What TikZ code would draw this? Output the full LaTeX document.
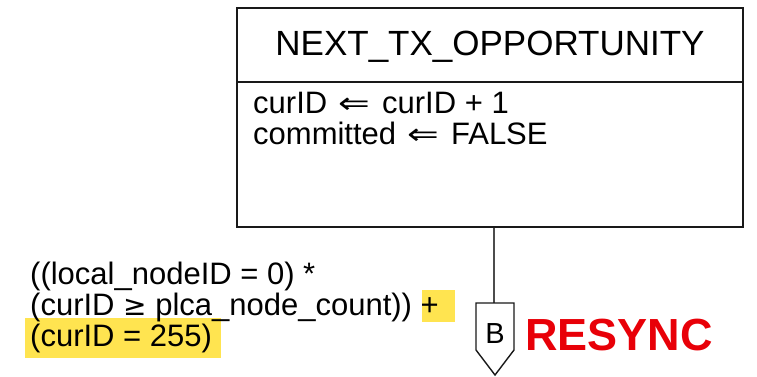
\documentclass[tikz,border=0pt]{standalone}
\usepackage{fontspec}
\setmainfont{Liberation Sans}
\newfontfamily\symfont{DejaVu Sans}
\definecolor{hlyellow}{RGB}{255,228,80}
\definecolor{resred}{RGB}{232,0,8}
\definecolor{boxline}{RGB}{25,25,25}
\newcommand{\larrowsym}{\hspace{3pt}\scalebox{1.22}[0.95]{\symfont ⇐}\hspace{3pt}}
\begin{document}
\begin{tikzpicture}[x=1pt,y=-1pt,
  statebox/.style={draw=boxline,line width=1.8pt,rectangle,minimum width=506pt,minimum height=219pt,inner sep=0pt},
  txt/.style={inner sep=0pt,anchor=base west,font=\fontsize{31}{31}\selectfont},
  hl/.style={fill=hlyellow,draw=none},
  conn/.style={draw=black!70,line width=1.6pt},
  pent/.style={draw=boxline,line width=1.4pt,fill=white}]
\useasboundingbox (0,0) rectangle (757,376);
% state box
\node[statebox] (box) at (490,117.5) {};
\draw[draw=boxline,line width=1.8pt] (box.west |- 0,82) -- (box.east |- 0,82);
\node[inner sep=0pt,anchor=base,font=\fontsize{35}{35}\selectfont] (title) at (490,55.5) {NEXT\_TX\_OPPORTUNITY};
\node[txt] (a1) at (253,113) {curID \larrowsym{} curID + 1};
\node[txt] (a2) at (253,144) {committed \larrowsym{} FALSE};
% highlights
\fill[hl] (422,290) rectangle (455,322);
\fill[hl] (25,318) rectangle (221,358);
% condition text
\node[txt] (c1) at (30,284) {((local\_nodeID = 0) *};
\node[txt] (c2) at (30,315) {(curID {\symfont\fontsize{28}{28}\selectfont ≥} plca\_node\_count)) +};
\node[txt] (c3) at (30,346) {(curID = 255)};
% connector and exit symbol
\coordinate (ptop) at (494,303);
\draw[conn] (box.south -| ptop) -- (ptop);
\draw[pent] (476,303) -- (514,303) -- (514,350) -- (495,375) -- (476,350) -- cycle;
\node[inner sep=0pt,anchor=base,font=\fontsize{29}{29}\selectfont] (b) at (495,343) {B};
\node[inner sep=0pt,anchor=base west,text=resred,font=\fontsize{45}{45}\selectfont\bfseries] (resync) at (525,350) {RESYNC};
\end{tikzpicture}
\end{document}
